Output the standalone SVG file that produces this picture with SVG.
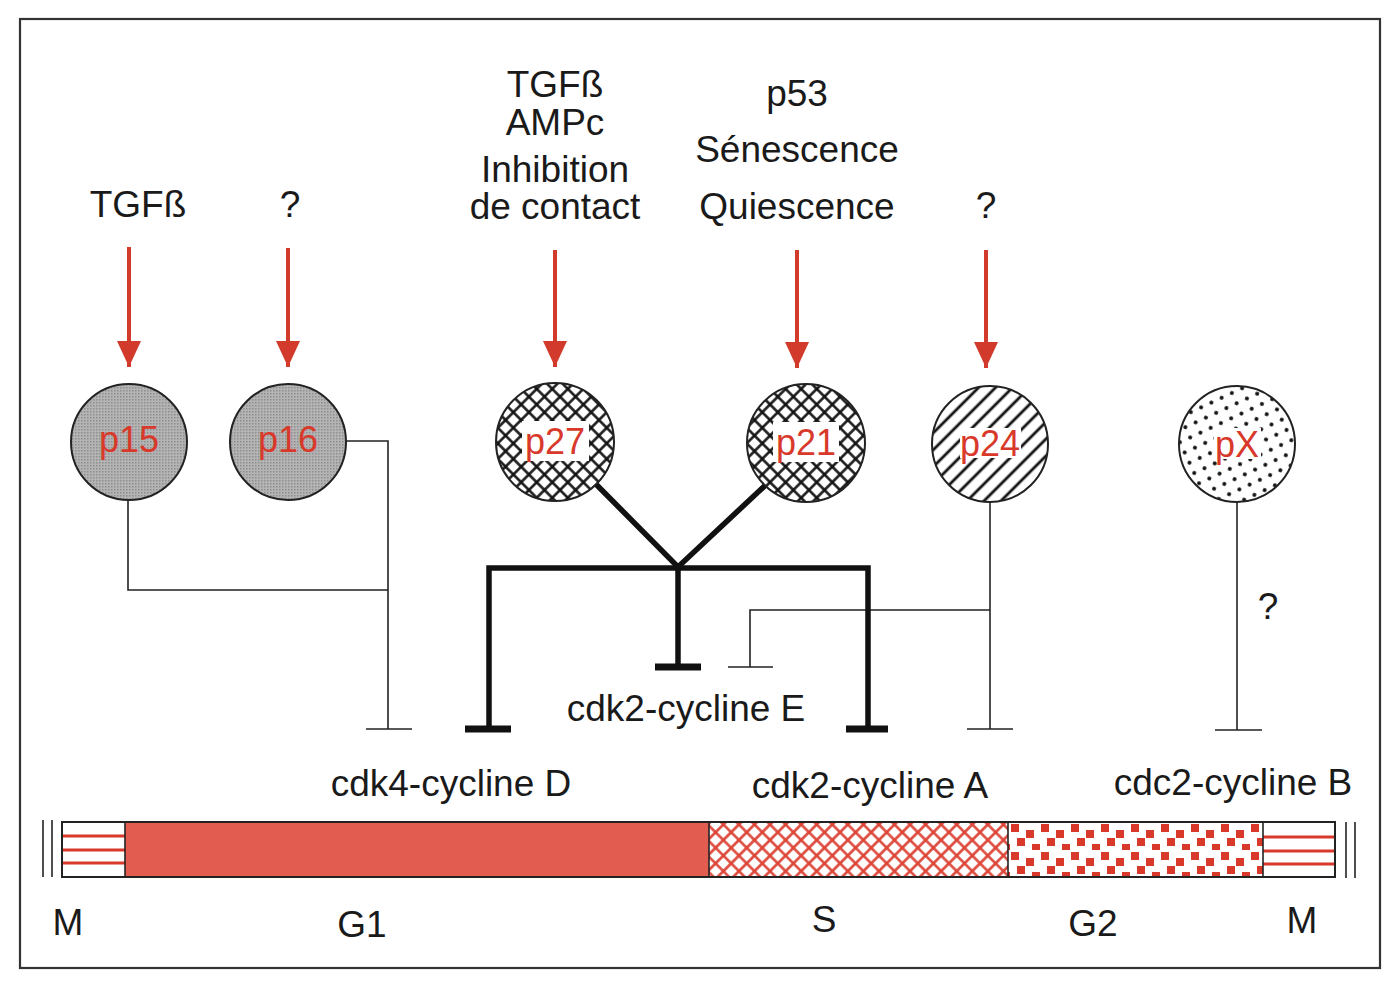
<svg xmlns="http://www.w3.org/2000/svg" width="1397" height="984" viewBox="0 0 1397 984">
<defs>
<style>
text{font-family:"Liberation Sans",Arial,sans-serif;font-size:37px;fill:#1a1a1a;text-anchor:middle}
.lbl{fill:#d8392b;font-size:36px}
.thin{stroke:#222;stroke-width:1.6;fill:none}
.thick{stroke:#111;stroke-width:5.5;fill:none}
.bar{stroke:#111;stroke-width:7;fill:none}
.arrow{stroke:#d23b2b;stroke-width:4;fill:none;marker-end:url(#ah)}
.circ{stroke:#222;stroke-width:2}
.seg{stroke:#222;stroke-width:1.6}
.mline{stroke:#d8392b;stroke-width:3}
</style>
<marker id="ah" markerUnits="userSpaceOnUse" markerWidth="28" markerHeight="26" refX="26" refY="12" orient="auto">
<path d="M0,0 L26,12 L0,24 Z" fill="#d23b2b"/>
</marker>
<pattern id="gray" width="3" height="3" patternUnits="userSpaceOnUse">
<rect width="3" height="3" fill="#b4b4b4"/><rect width="1.5" height="1.5" fill="#8e8e8e"/>
</pattern>
<pattern id="xh" width="11" height="11" patternUnits="userSpaceOnUse" patternTransform="rotate(45)">
<rect width="11" height="11" fill="#fff"/><path d="M0,5.5 H11 M5.5,0 V11" stroke="#111" stroke-width="2.5"/>
</pattern>
<pattern id="diag" width="12" height="12" patternUnits="userSpaceOnUse" patternTransform="rotate(-45)">
<rect width="12" height="12" fill="#fff"/><path d="M0,6 H12" stroke="#111" stroke-width="2.8"/>
</pattern>
<pattern id="dots" width="16" height="16" patternUnits="userSpaceOnUse" patternTransform="rotate(20)">
<rect width="16" height="16" fill="#fff"/><circle cx="4" cy="4" r="2" fill="#111"/><circle cx="12" cy="12" r="2" fill="#111"/>
</pattern>
<pattern id="rxh" width="11" height="11" patternUnits="userSpaceOnUse" patternTransform="rotate(45)">
<rect width="11" height="11" fill="#fff"/><path d="M0,5.5 H11 M5.5,0 V11" stroke="#dd4436" stroke-width="2.6"/>
</pattern>
<pattern id="rsq" width="30" height="28" patternUnits="userSpaceOnUse" x="1008" y="822">
<rect width="30" height="28" fill="#fff"/>
<g fill="#d8392b"><rect x="3" y="2" width="8" height="8"/><rect x="18" y="8" width="8" height="8"/><rect x="9" y="16" width="8" height="8"/><rect x="24" y="22" width="6" height="6"/><rect x="0" y="22" width="2" height="6"/></g>
</pattern>
</defs>
<rect width="1397" height="984" fill="#fff"/>
<rect x="20" y="19" width="1360" height="949" fill="none" stroke="#333" stroke-width="2.2"/>

<g id="inputs">
<text x="138" y="217">TGFß</text>
<text x="290" y="217">?</text>
<text x="555" y="97">TGFß</text>
<text x="555" y="135">AMPc</text>
<text x="555" y="182">Inhibition</text>
<text x="555" y="219">de contact</text>
<text x="797" y="106">p53</text>
<text x="797" y="162">Sénescence</text>
<text x="797" y="219">Quiescence</text>
<text x="986" y="218">?</text>
</g>

<g id="connectors">
<line class="arrow" x1="129" y1="247" x2="129" y2="367"/>
<line class="arrow" x1="288" y1="248" x2="288" y2="367"/>
<line class="arrow" x1="555" y1="250" x2="555" y2="367"/>
<line class="arrow" x1="797" y1="250" x2="797" y2="368"/>
<line class="arrow" x1="986" y1="250" x2="986" y2="368"/>
<polyline class="thin" points="128,500 128,590 388,590"/>
<polyline class="thin" points="346,441 388,441 388,729"/>
<line class="thin" x1="366" y1="729" x2="412" y2="729"/>
<polyline class="thin" points="990,503 990,729"/>
<line class="thin" x1="967" y1="729" x2="1013" y2="729"/>
<polyline class="thin" points="990,610 750,610 750,667"/>
<line class="thin" x1="728" y1="667" x2="773" y2="667"/>
<line class="thin" x1="1237" y1="503" x2="1237" y2="730"/>
<line class="thin" x1="1215" y1="730" x2="1262" y2="730"/>
<polyline class="thick" points="577,465 678,567 787,465"/>
<polyline class="thick" points="489,729 489,568 868,568 868,729"/>
<line class="thick" x1="678" y1="568" x2="678" y2="667"/>
<line class="bar" x1="465" y1="729" x2="511" y2="729"/>
<line class="bar" x1="655" y1="667" x2="701" y2="667"/>
<line class="bar" x1="846" y1="729" x2="888" y2="729"/>
<text x="1268" y="619">?</text>
</g>

<g id="p15"><circle class="circ" cx="129" cy="442" r="58" fill="url(#gray)"/><text class="lbl" x="129" y="452">p15</text></g>
<g id="p16"><circle class="circ" cx="288" cy="442" r="58" fill="url(#gray)"/><text class="lbl" x="288" y="452">p16</text></g>
<g id="p27"><circle class="circ" cx="555" cy="442" r="59" fill="url(#xh)"/><rect x="522" y="421" width="67" height="40" fill="#fff"/><text class="lbl" x="555" y="454">p27</text></g>
<g id="p21"><circle class="circ" cx="806" cy="443" r="59" fill="url(#xh)"/><rect x="773" y="422" width="66" height="40" fill="#fff"/><text class="lbl" x="806" y="455">p21</text></g>
<g id="p24"><circle class="circ" cx="990" cy="444" r="58" fill="url(#diag)"/><rect x="960" y="428" width="61" height="30" fill="#fff"/><text class="lbl" x="990" y="456">p24</text></g>
<g id="pX"><circle class="circ" cx="1237" cy="444" r="58" fill="url(#dots)"/><rect x="1214" y="428" width="47" height="31" fill="#fff"/><text class="lbl" x="1237" y="457">pX</text></g>

<g id="cdk4-cyclineD"><text x="451" y="796">cdk4-cycline D</text></g>
<g id="cdk2-cyclineE"><text x="686" y="721">cdk2-cycline E</text></g>
<g id="cdk2-cyclineA"><text x="870" y="798">cdk2-cycline A</text></g>
<g id="cdc2-cyclineB"><text x="1233" y="795">cdc2-cycline B</text></g>

<g id="cycle">
<line class="seg" x1="43" y1="820" x2="43" y2="877"/>
<line class="seg" x1="52" y1="820" x2="52" y2="877"/>
<line class="seg" x1="1346" y1="822" x2="1346" y2="878"/>
<line class="seg" x1="1355" y1="822" x2="1355" y2="878"/>
<rect x="62" y="822" width="63" height="55" fill="#fff"/>
<line class="mline" x1="62" y1="836" x2="125" y2="836"/>
<line class="mline" x1="62" y1="850" x2="125" y2="850"/>
<line class="mline" x1="62" y1="863" x2="125" y2="863"/>
<rect x="125" y="822" width="584" height="55" fill="#e25d50"/>
<rect x="709" y="822" width="299" height="55" fill="url(#rxh)"/>
<rect x="1008" y="822" width="255" height="55" fill="url(#rsq)"/>
<rect x="1263" y="822" width="72" height="55" fill="#fff"/>
<line class="mline" x1="1263" y1="837" x2="1335" y2="837"/>
<line class="mline" x1="1263" y1="851" x2="1335" y2="851"/>
<line class="mline" x1="1263" y1="864" x2="1335" y2="864"/>
<rect x="62" y="822" width="1273" height="55" fill="none" stroke="#222" stroke-width="2"/>
<line class="seg" x1="125" y1="822" x2="125" y2="877"/>
<line class="seg" x1="709" y1="822" x2="709" y2="877"/>
<line class="seg" x1="1008" y1="822" x2="1008" y2="877"/>
<line class="seg" x1="1263" y1="822" x2="1263" y2="877"/>
<text x="68" y="935">M</text>
<text x="362" y="937">G1</text>
<text x="824" y="932">S</text>
<text x="1093" y="936">G2</text>
<text x="1302" y="933">M</text>
</g>
</svg>
